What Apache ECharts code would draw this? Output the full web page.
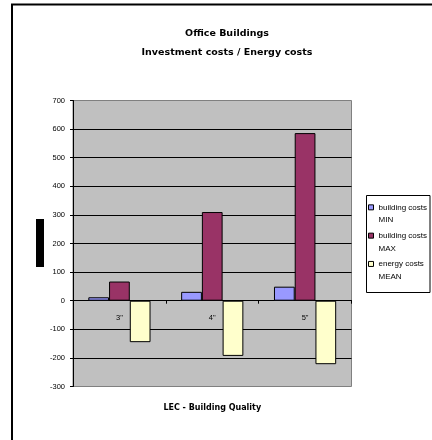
<!DOCTYPE html>
<html><head><meta charset="utf-8">
<script src="https://cdn.jsdelivr.net/npm/echarts@6/dist/echarts.min.js"></script>
<style>html,body{margin:0;padding:0;background:#fff}#c{width:432px;height:440px}</style>
</head><body><div id="c"></div>
<script>
const categories = ['3"', '4"', '5"'];
const seriesNames = ['building costs MIN', 'building costs MAX', 'energy costs MEAN'];
const legendLines = [['building costs', 'MIN'], ['building costs', 'MAX'], ['energy costs', 'MEAN']];
const buildingMin = [12, 31, 49];
const buildingMax = [67, 310, 586];
const energyMean = [-145, -193, -222];
const yTicks = { min: -300, max: 700, step: 100 };
const colors = ['#9999ff', '#993366', '#ffffcc'];

const narrow = "'Liberation Sans Narrow', 'Arial Narrow', 'Liberation Sans', sans-serif";
const chart = echarts.init(document.getElementById('c'), null, { renderer: 'canvas' });
const values = [buildingMin, buildingMax, energyMean];
chart.setOption({
  animation: false,
  backgroundColor: '#ffffff',
  title: {
    text: 'Office Buildings\nInvestment costs / Energy costs',
    left: 227, top: 24, textAlign: 'center', padding: 0,
    textStyle: { fontFamily: 'DejaVu Sans', fontWeight: 'bold', fontSize: 9.5, lineHeight: 19, color: '#000' }
  },
  grid: {
    left: 73, right: 80.5, top: 100.5, bottom: 53.5,
    outerBoundsMode: 'none', containLabel: false,
    show: true, backgroundColor: '#c0c0c0', borderColor: '#808080', borderWidth: 1
  },
  legend: {
    orient: 'vertical', left: 368, top: 188.3, padding: 0, itemGap: -9.8,
    itemWidth: 5, itemHeight: 5, icon: 'rect',
    itemStyle: { borderColor: '#000', borderWidth: 1 },
    data: seriesNames,
    formatter: function (n) { const i = seriesNames.indexOf(n); return '\n' + legendLines[i].join('\n'); },
    textStyle: { fontFamily: narrow, fontSize: 8, lineHeight: 12.7, color: '#000' }
  },
  xAxis: {
    type: 'category', data: categories,
    axisLine: { onZero: true, lineStyle: { color: '#000', width: 1 } },
    axisTick: { show: true, inside: false, length: 3, lineStyle: { color: '#000' } },
    axisLabel: { margin: -72.5, fontFamily: narrow, fontSize: 7.5, color: '#000' },
    splitLine: { show: false },
    name: 'LEC - Building Quality', nameLocation: 'middle', nameGap: 17,
    nameTextStyle: { fontFamily: 'DejaVu Sans', fontWeight: 'bold', fontSize: 8, color: '#000' }
  },
  yAxis: {
    type: 'value', min: yTicks.min, max: yTicks.max, interval: yTicks.step,
    axisLine: { show: true, lineStyle: { color: '#000', width: 1 } },
    axisTick: { show: true, inside: false, length: 3, lineStyle: { color: '#000' } },
    axisLabel: { margin: 8, fontFamily: narrow, fontSize: 7.5, color: '#000' },
    splitLine: { show: true, showMinLine: false, showMaxLine: false, lineStyle: { color: '#000', width: 1 } }
  },
  series: seriesNames.map((n, i) => ({
    name: n, type: 'bar', data: values[i],
    barGap: '0%', barCategoryGap: '33%',
    itemStyle: { color: colors[i], borderColor: '#000', borderWidth: 1 }
  })),
  graphic: [
    { type: 'rect', shape: { x: 12, y: 4.5, width: 500, height: 500 }, style: { fill: 'none', stroke: '#000', lineWidth: 2 }, silent: true },
    { type: 'rect', shape: { x: 36, y: 219, width: 8, height: 48 }, style: { fill: '#000' }, silent: true },
    { type: 'rect', shape: { x: 366.5, y: 195.5, width: 63.5, height: 97 }, style: { fill: '#fff', stroke: '#000', lineWidth: 1 }, z: -1, silent: true }
  ]
});
</script></body></html>
